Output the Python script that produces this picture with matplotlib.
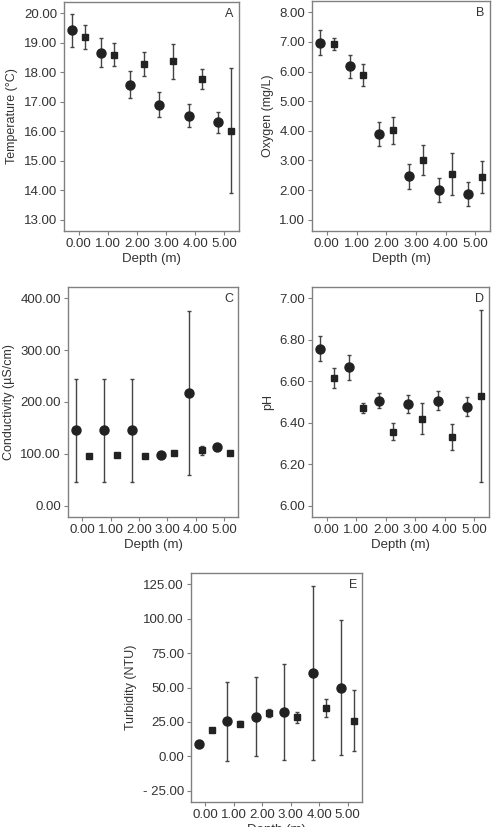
import numpy as np
import matplotlib.pyplot as plt
from matplotlib.ticker import FuncFormatter

plt.rcParams['font.family'] = ['Liberation Sans', 'DejaVu Sans']

depth = np.arange(6)

# panel A - temperature
temp_c = [19.43, 18.67, 17.58, 16.90, 16.52, 16.30]
temp_c_err = [0.56, 0.49, 0.45, 0.43, 0.39, 0.36]
temp_s = [19.20, 18.60, 18.27, 18.37, 17.77, 16.02]
temp_s_err = [0.42, 0.40, 0.41, 0.59, 0.35, 2.12]

# panel B - oxygen
oxy_c = [6.98, 6.18, 3.89, 2.46, 2.01, 1.86]
oxy_c_err = [0.43, 0.38, 0.40, 0.43, 0.41, 0.41]
oxy_s = [6.93, 5.90, 4.02, 3.01, 2.54, 2.43]
oxy_s_err = [0.21, 0.37, 0.45, 0.51, 0.70, 0.54]

# panel C - conductivity
cond_c = [145, 145, 145, 97, 217.5, 114]
cond_c_err = [100, 100, 100, 3, 159, 3]
cond_s = [96.5, 97.5, 96.5, 101, 106.5, 101.5]
cond_s_err = [2, 2, 2, 3, 8, 2]

# panel D - pH
ph_c = [6.757, 6.667, 6.507, 6.491, 6.507, 6.478]
ph_c_err = [0.060, 0.061, 0.038, 0.042, 0.048, 0.046]
ph_s = [6.615, 6.472, 6.357, 6.420, 6.333, 6.528]
ph_s_err = [0.047, 0.024, 0.041, 0.075, 0.063, 0.415]

# panel E - turbidity
turb_c = [8.8, 25.4, 28.6, 32.0, 60.7, 49.7]
turb_c_err = [1.5, 28.9, 28.7, 34.8, 63.2, 49.1]
turb_s = [19.0, 23.8, 31.5, 28.4, 34.9, 26.0]
turb_s_err = [1.5, 1.5, 3.2, 4.0, 6.6, 22.2]

panels = [
    ('A', 'Temperature (°C)', temp_c, temp_c_err, temp_s, temp_s_err, np.arange(13, 20.5, 1.0)),
    ('B', 'Oxygen (mg/L)', oxy_c, oxy_c_err, oxy_s, oxy_s_err, np.arange(1, 8.5, 1.0)),
    ('C', 'Conductivity (µS/cm)', cond_c, cond_c_err, cond_s, cond_s_err, np.arange(0, 401, 100)),
    ('D', 'pH', ph_c, ph_c_err, ph_s, ph_s_err, np.arange(6.0, 7.01, 0.2)),
    ('E', 'Turbidity (NTU)', turb_c, turb_c_err, turb_s, turb_s_err, np.arange(-25, 126, 25)),
]

# axes boxes in pixels (left, top, right, bottom)
boxes = [(64, 2, 239, 231), (312, 1, 490, 231),
         (68, 287, 238, 517), (312, 287, 489, 517),
         (191, 573, 362, 802)]

W, H = 493, 827
fig = plt.figure(figsize=(W / 100, H / 100), dpi=100)

txt = '#333333'
frame = '#808080'

def fmt(v, pos):
    if v < 0:
        return f'- {abs(v):.2f}'
    return f'{v:.2f}'

for (letter, ylab, yc, ec, ys, es, yt), (l, t, r, b) in zip(panels, boxes):
    ax = fig.add_axes([l / W, 1 - b / H, (r - l) / W, (b - t) / H])
    ax.errorbar(depth - 0.23, yc, yerr=ec, fmt='o', color='#222222', ms=6.5,
                ecolor='#444444', elinewidth=1, capsize=1.6, capthick=1)
    ax.errorbar(depth + 0.23, ys, yerr=es, fmt='s', color='#222222', ms=4.8,
                ecolor='#444444', elinewidth=1, capsize=1.6, capthick=1)
    span = yt[-1] - yt[0]
    ax.set_ylim(yt[0] - 0.055 * span, yt[-1] + 0.055 * span)
    ax.set_xlim(-0.5, 5.5)
    ax.set_yticks(yt)
    ax.set_xticks(depth)
    ax.yaxis.set_major_formatter(FuncFormatter(fmt))
    ax.xaxis.set_major_formatter(FuncFormatter(fmt))
    for s in ax.spines.values():
        s.set_color(frame)
        s.set_linewidth(1)
    ax.tick_params(direction='out', length=3, width=0.8, color=frame,
                   labelsize=9.5, labelcolor=txt, pad=2)
    ax.set_xlabel('Depth (m)', fontsize=9.5, color=txt, labelpad=2)
    ax.set_ylabel(ylab, fontsize=9, color=txt, labelpad=4)
    ax.text(0.97, 0.975, letter, transform=ax.transAxes, ha='right', va='top',
            fontsize=9, color=txt)

fig.savefig('out.png', dpi=100)
